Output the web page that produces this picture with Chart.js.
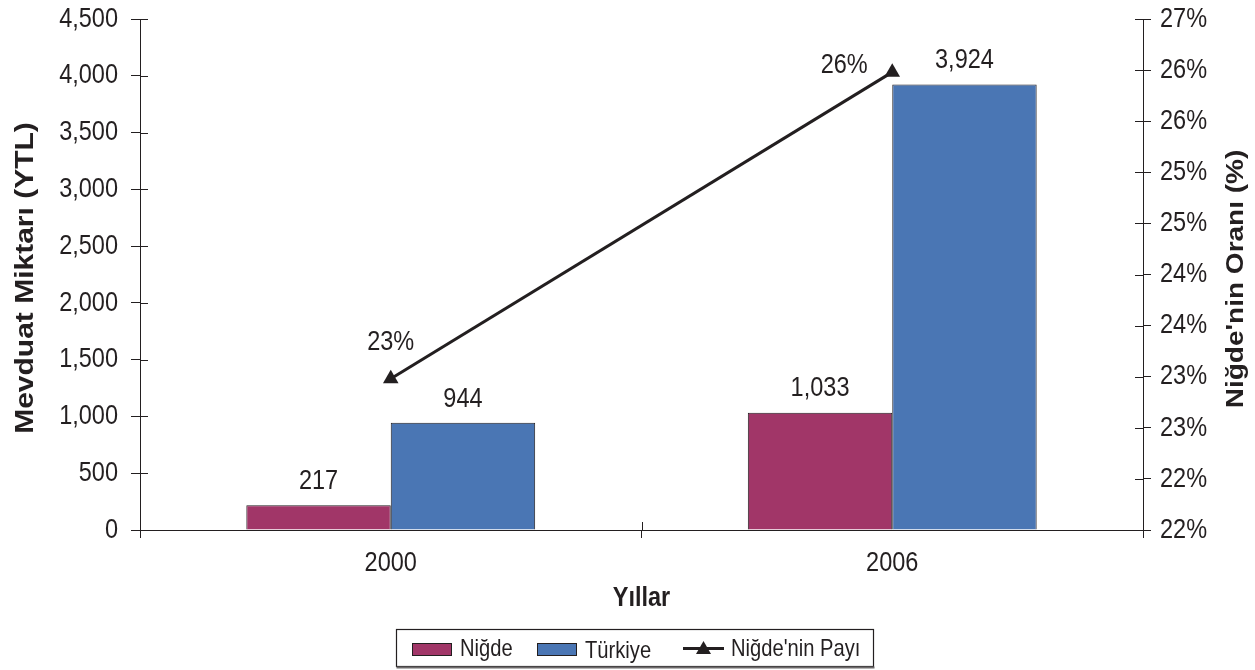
<!DOCTYPE html>
<html>
<head>
<meta charset="utf-8">
<script src="https://cdn.jsdelivr.net/npm/chart.js@4"></script>
<style>
html,body{margin:0;padding:0;background:#fff;}
canvas{display:block;}
</style>
</head>
<body>
<canvas id="c" width="1255" height="670"></canvas>
<script>
// ---- data ----
const categories = ['2000', '2006'];
const nigdeValues = [217, 1033];
const turkiyeValues = [944, 3924];
const nigdeShare = [23.48, 26.48];
const shareLabels = ['23%', '26%'];
const leftTickLabels = ['0', '500', '1,000', '1,500', '2,000', '2,500', '3,000', '3,500', '4,000', '4,500'];
const rightTickLabels = ['22%', '22%', '23%', '23%', '24%', '24%', '25%', '25%', '26%', '26%', '27%'];
const seriesNames = ['Niğde', 'Türkiye', "Niğde'nin Payı"];
const axisTitles = { left: 'Mevduat Miktarı (YTL)', right: "Niğde'nin Oranı (%)", x: 'Yıllar' };

// ---- styles ----
const INK = '#231f20';
const MAROON = '#a13668';
const BLUE = '#4a76b4';
const SANS = '"Liberation Sans", Arial, sans-serif';
const SX = 0.84; // horizontal condensing of text

function fmt(n) { return n.toLocaleString('en-US'); }

function text(ctx, s, x, y, font, align, sx) {
  ctx.save();
  ctx.translate(x, y);
  ctx.scale(sx === undefined ? SX : sx, 1);
  ctx.font = font;
  ctx.textAlign = align || 'center';
  ctx.textBaseline = 'middle';
  ctx.fillStyle = INK;
  ctx.fillText(s, 0, 0);
  ctx.restore();
}

function vtext(ctx, s, x, y, font) {
  ctx.save();
  ctx.translate(x, y);
  ctx.rotate(-Math.PI / 2);
  ctx.scale(1, SX);
  ctx.font = font;
  ctx.textAlign = 'center';
  ctx.textBaseline = 'middle';
  ctx.fillStyle = INK;
  ctx.fillText(s, 0, 0);
  ctx.restore();
}

const overlay = {
  id: 'overlay',
  afterDatasetsDraw(chart) {
    const ctx = chart.ctx;
    const F = '28px ' + SANS;
    [0, 1].forEach(di => {
      const meta = chart.getDatasetMeta(di);
      meta.data.forEach((el, i) => {
        text(ctx, fmt(chart.data.datasets[di].data[i]), el.x, el.y - 24, F);
      });
    });
    const lm = chart.getDatasetMeta(2);
    const offs = [[0, -36], [-48, -7]];
    lm.data.forEach((el, i) => {
      text(ctx, shareLabels[i], el.x + offs[i][0], el.y + offs[i][1], F);
    });
  },
  afterDraw(chart) {
    const ctx = chart.ctx;
    const a = chart.chartArea;
    const ys = chart.scales.y, y2 = chart.scales.y2, xs = chart.scales.x;
    ctx.save();
    ctx.strokeStyle = INK;
    ctx.lineWidth = 1;
    // inner tick portions
    ctx.beginPath();
    ys.ticks.forEach(t => {
      const p = Math.round(ys.getPixelForValue(t.value)) + 0.5;
      ctx.moveTo(a.left, p); ctx.lineTo(a.left + 8, p);
    });
    y2.ticks.forEach(t => {
      const p = Math.round(y2.getPixelForValue(t.value)) + 0.5;
      ctx.moveTo(a.right - 8, p); ctx.lineTo(a.right, p);
    });
    const mid = Math.round((xs.getPixelForValue(0) + xs.getPixelForValue(1)) / 2) + 0.5;
    ctx.moveTo(mid, a.bottom); ctx.lineTo(mid, a.bottom - 8);
    ctx.stroke();
    ctx.restore();

    // tick labels
    const TF = '28px ' + SANS;
    ys.ticks.forEach((t, i) => text(ctx, leftTickLabels[i], 118, ys.getPixelForValue(t.value), TF, 'right'));
    y2.ticks.forEach((t, i) => text(ctx, rightTickLabels[i], 1160, y2.getPixelForValue(t.value), TF, 'left'));
    categories.forEach((c, i) => text(ctx, c, xs.getPixelForValue(i), 563, TF));

    // axis titles
    vtext(ctx, axisTitles.left, 26, 278, 'bold 30px ' + SANS);
    vtext(ctx, axisTitles.right, 1237, 279, 'bold 28px ' + SANS);
    text(ctx, axisTitles.x, (a.left + a.right) / 2, 598, 'bold 28px ' + SANS);

    // legend
    ctx.save();
    const L = 396.5, T = 629.5, W = 477, H = 37;
    ctx.fillStyle = '#fff';
    ctx.fillRect(L, T, W, H);
    ctx.strokeStyle = INK;
    ctx.lineWidth = 1.2;
    ctx.strokeRect(L, T, W, H);
    ctx.strokeStyle = '#6d6a6b';
    ctx.lineWidth = 2;
    ctx.beginPath(); ctx.moveTo(L, T + H + 1); ctx.lineTo(L + W + 1, T + H + 1); ctx.stroke();

    ctx.lineWidth = 1;
    ctx.strokeStyle = INK;
    ctx.fillStyle = MAROON;
    ctx.fillRect(412.5, 643.5, 39, 12); ctx.strokeRect(412.5, 643.5, 39, 12);
    ctx.fillStyle = BLUE;
    ctx.fillRect(537.5, 643.5, 39, 12); ctx.strokeRect(537.5, 643.5, 39, 12);
    ctx.lineWidth = 3;
    ctx.beginPath(); ctx.moveTo(683, 648.5); ctx.lineTo(724, 648.5); ctx.stroke();
    ctx.fillStyle = INK;
    ctx.beginPath();
    ctx.moveTo(703.5, 641); ctx.lineTo(711, 654); ctx.lineTo(696, 654); ctx.closePath(); ctx.fill();
    ctx.restore();

    const LF = '24px ' + SANS;
    text(ctx, seriesNames[0], 460, 649, LF, 'left');
    text(ctx, seriesNames[1], 585, 651, LF, 'left');
    text(ctx, seriesNames[2], 731, 649, LF, 'left');
  }
};

new Chart(document.getElementById('c'), {
  data: {
    labels: categories,
    datasets: [
      { type: 'bar', label: seriesNames[0], data: nigdeValues, backgroundColor: MAROON,
        borderColor: INK, borderWidth: 1, yAxisID: 'y', order: 2,
        barPercentage: 1, categoryPercentage: 0.576 },
      { type: 'bar', label: seriesNames[1], data: turkiyeValues, backgroundColor: BLUE,
        borderColor: INK, borderWidth: 1, yAxisID: 'y', order: 2,
        barPercentage: 1, categoryPercentage: 0.576 },
      { type: 'line', label: seriesNames[2], data: nigdeShare, yAxisID: 'y2', order: 0,
        borderColor: INK, borderWidth: 3, backgroundColor: INK,
        pointStyle: 'triangle', pointRadius: 9, pointHoverRadius: 9,
        pointBackgroundColor: INK, pointBorderColor: INK, pointBorderWidth: 0, tension: 0 }
    ]
  },
  options: {
    responsive: false,
    animation: false,
    events: [],
    layout: { padding: { top: 19, left: 0, right: 0, bottom: 0 } },
    plugins: { legend: { display: false }, tooltip: { enabled: false } },
    scales: {
      x: {
        type: 'category',
        offset: true,
        afterFit: s => { s.height = 140; },
        grid: { display: true, offset: true, drawOnChartArea: false, drawTicks: true, tickLength: 8, color: INK, lineWidth: 1 },
        border: { display: true, color: INK, width: 1 },
        ticks: { display: false }
      },
      y: {
        type: 'linear', position: 'left', min: 0, max: 4500,
        afterFit: s => { s.width = 140; },
        grid: { display: true, drawOnChartArea: false, drawTicks: true, tickLength: 9, color: INK, lineWidth: 1 },
        border: { display: true, color: INK, width: 1 },
        ticks: { display: false, stepSize: 500, autoSkip: false }
      },
      y2: {
        type: 'linear', position: 'right', min: 22, max: 27,
        afterFit: s => { s.width = 112; },
        grid: { display: true, drawOnChartArea: false, drawTicks: true, tickLength: 8, color: INK, lineWidth: 1 },
        border: { display: true, color: INK, width: 1 },
        ticks: { display: false, stepSize: 0.5, autoSkip: false }
      }
    }
  },
  plugins: [overlay]
});
</script>
</body>
</html>
